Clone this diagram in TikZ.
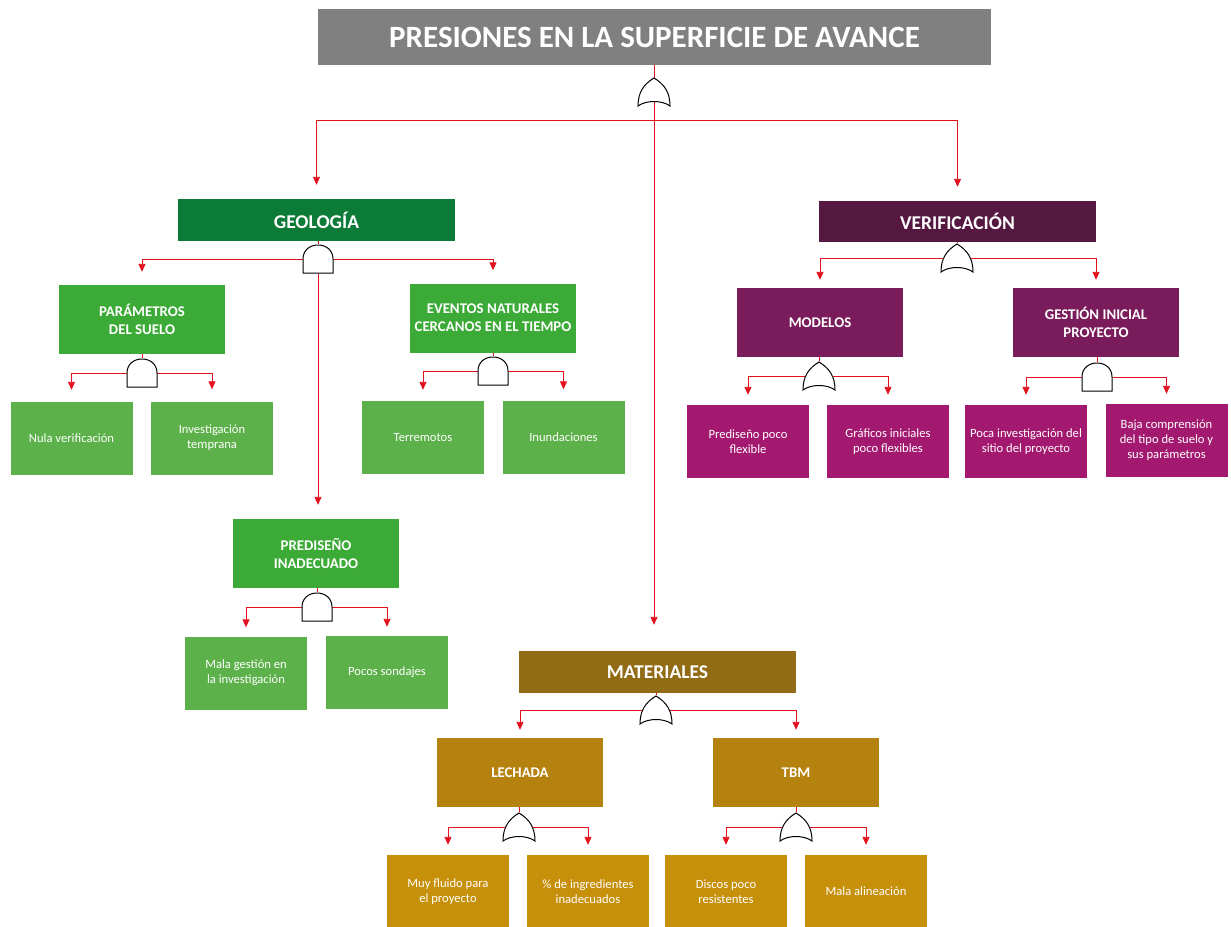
\documentclass[tikz,border=0pt]{standalone}
\usepackage{fontspec}
\setmainfont{Carlito}
\usetikzlibrary{arrows.meta}
\definecolor{titlegray}{HTML}{808080}
\definecolor{greenA}{HTML}{0C7B37}
\definecolor{greenB}{HTML}{3BAA36}
\definecolor{greenC}{HTML}{5CB14A}
\definecolor{purpleA}{HTML}{551841}
\definecolor{purpleB}{HTML}{7A1B5B}
\definecolor{purpleC}{HTML}{A3196F}
\definecolor{goldA}{HTML}{926B15}
\definecolor{goldB}{HTML}{B5820F}
\definecolor{goldC}{HTML}{C6900A}
\definecolor{linkred}{HTML}{E3101E}
\begin{document}
\begin{tikzpicture}[x=1pt,y=-1pt,
  box/.style={inner sep=0pt, text=white, align=center},
  head/.style={box, minimum width=277pt, minimum height=42pt, font=\fontsize{19.5}{22}\selectfont\bfseries},
  sub/.style={box, minimum width=166pt, minimum height=69pt, font=\fontsize{14.8}{18}\selectfont\bfseries},
  leaf/.style={box, minimum width=122pt, minimum height=73pt, font=\fontsize{12.6}{15}\selectfont},
  gatebox/.style={inner sep=0pt, minimum width=32pt, minimum height=30pt},
  link/.style={draw=linkred, line width=0.9pt},
  arrow/.style={link, -{Triangle[length=8pt,width=7pt]}},
  orgate/.pic={\draw[fill=white, line width=1pt] (0,-14) .. controls (-10,-8) and (-16,0) .. (-16,14)
      .. controls (-8,8) and (8,8) .. (16,14) .. controls (16,0) and (10,-8) .. (0,-14) -- cycle;},
  andgate/.pic={\draw[fill=white, line width=1pt] (-15,14) -- (-15,0) .. controls (-15,-9) and (-8,-14) .. (0,-14)
      .. controls (8,-14) and (15,-9) .. (15,0) -- (15,14) -- cycle;}
]
\fill[white] (0,0) rectangle (1231,926);
\useasboundingbox (0,0) rectangle (1231,926);

% title and first level
\node[box, fill=titlegray, minimum width=673pt, minimum height=56pt,
      font=\fontsize{31}{34}\selectfont\bfseries] (title) at (654.5,37) {PRESIONES EN LA SUPERFICIE DE AVANCE};
\node[head, fill=greenA] (geo) at (316.5,220) {GEOLOGÍA};
\node[head, fill=purpleA, minimum height=41pt] (ver) at (957.5,221.5) {VERIFICACIÓN};
\node[head, fill=goldA] (mat) at (657.5,672) {MATERIALES};

% geology branch
\node[sub, fill=greenB] (par) at (142,319.5) {PARÁMETROS\\DEL SUELO};
\node[sub, fill=greenB] (eve) at (493,318) {EVENTOS NATURALES\\CERCANOS EN EL TIEMPO};
\node[sub, fill=greenB] (pre) at (316,553.5) {PREDISEÑO\\INADECUADO};
\node[leaf, fill=greenC] (nula) at (71.5,438.5) {Nula verificación};
\node[leaf, fill=greenC] (inv) at (212,438) {Investigación\\temprana};
\node[leaf, fill=greenC] (ter) at (423,437.5) {Terremotos};
\node[leaf, fill=greenC] (inu) at (563.5,437) {Inundaciones};
\node[leaf, fill=greenC] (mal) at (246,673) {Mala gestión en\\la investigación};
\node[leaf, fill=greenC] (poc) at (387,672.5) {Pocos sondajes};

% verification branch
\node[sub, fill=purpleB] (mod) at (820,322.5) {MODELOS};
\node[sub, fill=purpleB] (ges) at (1096,322.5) {GESTIÓN INICIAL\\PROYECTO};
\node[leaf, fill=purpleC] (prd) at (748,441.5) {Prediseño poco\\flexible};
\node[leaf, fill=purpleC] (gra) at (888,441.5) {Gráficos iniciales\\poco flexibles};
\node[leaf, fill=purpleC] (pci) at (1026,441.5) {Poca investigación del\\sitio del proyecto};
\node[leaf, fill=purpleC] (baj) at (1166.5,440.5) {Baja comprensión\\del tipo de suelo y\\sus parámetros};

% materials branch
\node[sub, fill=goldB] (lec) at (520,772.5) {LECHADA};
\node[sub, fill=goldB] (tbm) at (796,772.5) {TBM};
\node[leaf, fill=goldC] (muy) at (448,891.5) {Muy fluido para\\el proyecto};
\node[leaf, fill=goldC] (ing) at (588,891.5) {\% de ingredientes\\inadecuados};
\node[leaf, fill=goldC] (dis) at (726,891.5) {Discos poco\\resistentes};
\node[leaf, fill=goldC] (mla) at (866,891.5) {Mala alineación};

% gate placeholders
\node[gatebox] (g0) at (654,92) {};
\node[gatebox] (gGeo) at (318,259) {};
\node[gatebox] (gPar) at (142,373) {};
\node[gatebox] (gEve) at (493,371) {};
\node[gatebox] (gPre) at (317,607) {};
\node[gatebox] (gVer) at (957,258) {};
\node[gatebox] (gMod) at (819,376) {};
\node[gatebox] (gGes) at (1097,377) {};
\node[gatebox] (gMat) at (656,710) {};
\node[gatebox] (gLec) at (519,827) {};
\node[gatebox] (gTbm) at (796,827) {};

% connectors
\draw[arrow] (title.south -| g0) -- ([yshift=26pt]g0 |- mat.north);
\draw[arrow] (g0.south) -- ++(0,13) -| ([yshift=14pt]geo.north);
\draw[arrow] (g0.south) -- ++(0,13) -| ([yshift=14pt]ver.north);

\draw[link] (gGeo.north |- geo.south) -- (gGeo.north);
\draw[arrow] (gGeo.center) -| ([yshift=13pt]par.north);
\draw[arrow] (gGeo.center) -| ([yshift=13pt]eve.north);
\draw[arrow] (gGeo.south) -- ([yshift=14pt]gGeo.south |- pre.north);

\draw[link] (gPar.north |- par.south) -- (gPar.north);
\draw[arrow] (gPar.center) -| ([yshift=12pt]nula.north);
\draw[arrow] (gPar.center) -| ([yshift=12pt]inv.north);

\draw[link] (gEve.north |- eve.south) -- (gEve.north);
\draw[arrow] (gEve.center) -| ([yshift=11pt]ter.north);
\draw[arrow] (gEve.center) -| ([yshift=11pt]inu.north);

\draw[link] (gPre.north |- pre.south) -- (gPre.north);
\draw[arrow] (gPre.center) -| ([yshift=9pt]mal.north);
\draw[arrow] (gPre.center) -| ([yshift=9pt]poc.north);

\draw[link] (gVer.north |- ver.south) -- (gVer.north);
\draw[arrow] (gVer.center) -| ([yshift=8pt]mod.north);
\draw[arrow] (gVer.center) -| ([yshift=8pt]ges.north);

\draw[link] (gMod.north |- mod.south) -- (gMod.north);
\draw[arrow] (gMod.center) -| ([yshift=10pt]prd.north);
\draw[arrow] (gMod.center) -| ([yshift=10pt]gra.north);

\draw[link] (gGes.north |- ges.south) -- (gGes.north);
\draw[arrow] (gGes.center) -| ([yshift=10pt]pci.north);
\draw[arrow] (gGes.center) -| ([yshift=10pt]baj.north);

\draw[link] (gMat.north |- mat.south) -- (gMat.north);
\draw[arrow] (gMat.center) -| ([yshift=8pt]lec.north);
\draw[arrow] (gMat.center) -| ([yshift=8pt]tbm.north);

\draw[link] (gLec.north |- lec.south) -- (gLec.north);
\draw[arrow] (gLec.center) -| ([yshift=10pt]muy.north);
\draw[arrow] (gLec.center) -| ([yshift=10pt]ing.north);

\draw[link] (gTbm.north |- tbm.south) -- (gTbm.north);
\draw[arrow] (gTbm.center) -| ([yshift=10pt]dis.north);
\draw[arrow] (gTbm.center) -| ([yshift=10pt]mla.north);

% logic gates
\pic at (g0) {orgate};
\pic at (gGeo) {andgate};
\pic at (gPar) {andgate};
\pic at (gEve) {andgate};
\pic at (gPre) {andgate};
\pic at (gVer) {orgate};
\pic at (gMod) {orgate};
\pic at (gGes) {andgate};
\pic at (gMat) {orgate};
\pic at (gLec) {orgate};
\pic at (gTbm) {orgate};
\end{tikzpicture}
\end{document}
